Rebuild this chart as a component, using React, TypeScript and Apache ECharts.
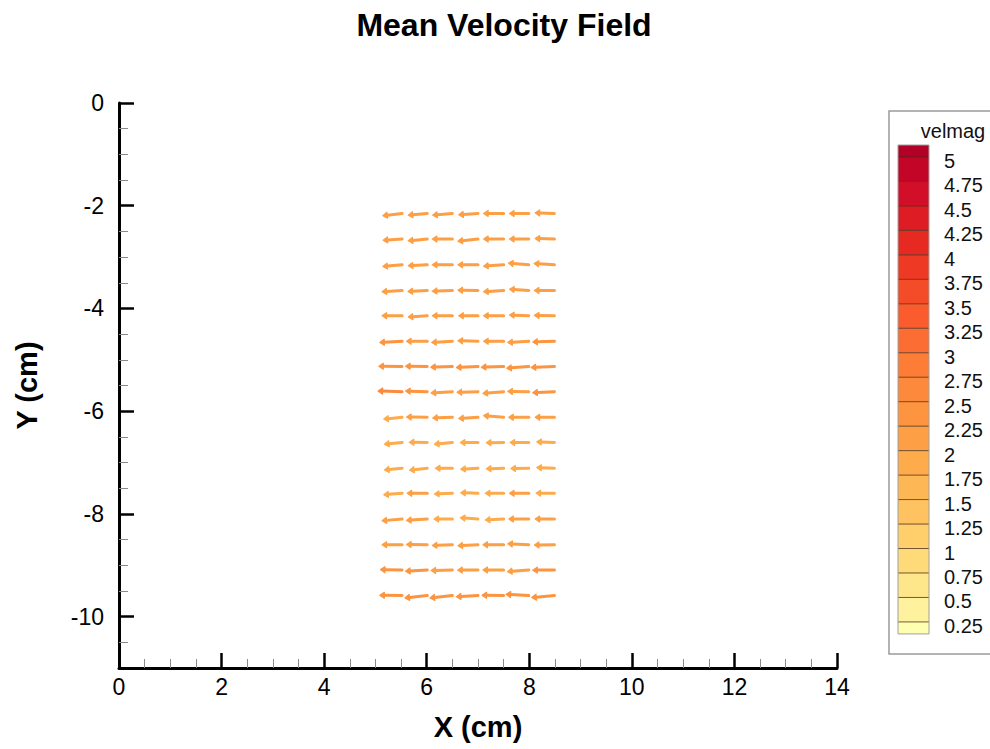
import React, { useEffect, useRef } from "react";
import * as echarts from "echarts";

// Grid positions (cm) of the vector anchors (tails)
const X_POS = [5.52, 6.01, 6.5, 7.0, 7.5, 7.99, 8.49];
const Y_POS = [-2.15, -2.65, -3.15, -3.65, -4.14, -4.64, -5.13, -5.62, -6.12, -6.61, -7.11, -7.6, -8.1, -8.6, -9.09, -9.59];

// Velocity components (cm/s), one row per Y_POS, one column per X_POS
const U = [
  [-2.03, -2.0, -2.07, -2.03, -2.11, -2.03, -2.03],
  [-2.0, -2.0, -2.11, -2.11, -2.11, -2.03, -2.03],
  [-2.03, -2.0, -2.11, -2.11, -2.11, -2.14, -2.14],
  [-2.11, -2.03, -2.11, -2.11, -2.11, -2.03, -2.11],
  [-2.11, -2.0, -2.11, -2.03, -2.11, -2.03, -2.11],
  [-2.35, -2.18, -2.18, -2.11, -2.11, -2.21, -2.28],
  [-2.45, -2.28, -2.28, -2.28, -2.35, -2.32, -2.45],
  [-2.53, -2.28, -2.24, -2.21, -2.18, -2.21, -2.28],
  [-1.93, -2.18, -2.07, -2.03, -2.11, -2.11, -2.03],
  [-1.86, -1.89, -1.89, -1.86, -1.82, -1.97, -1.86],
  [-1.86, -1.86, -1.79, -1.82, -1.82, -1.89, -1.86],
  [-1.93, -2.11, -1.89, -1.82, -1.93, -2.03, -1.93],
  [-2.11, -2.18, -1.93, -1.86, -1.93, -2.11, -2.03],
  [-2.11, -2.18, -2.11, -2.11, -2.18, -2.21, -2.11],
  [-2.28, -2.28, -2.24, -2.14, -2.18, -2.24, -2.28],
  [-2.35, -2.35, -2.35, -2.28, -2.28, -2.39, -2.39],
];
const V = [
  [-0.24, -0.18, -0.18, -0.14, 0, 0, 0.07],
  [-0.11, -0.18, 0, -0.21, 0, 0, 0.07],
  [-0.18, -0.11, 0, 0, -0.14, 0.18, 0.14],
  [-0.14, -0.11, -0.07, 0.03, -0.14, 0.14, 0],
  [0, -0.14, 0, 0, 0, 0.07, 0.03],
  [-0.11, 0, -0.11, 0.07, 0, -0.11, -0.07],
  [0.03, 0.03, -0.07, -0.11, -0.07, -0.18, -0.11],
  [0.07, 0.07, -0.14, -0.07, -0.18, 0.03, -0.11],
  [-0.18, 0.03, -0.07, -0.11, 0.18, 0, 0],
  [-0.18, 0.03, -0.18, 0, -0.03, 0, 0.07],
  [-0.18, -0.21, 0, -0.11, -0.07, -0.03, 0.07],
  [-0.14, 0, -0.07, 0.07, 0, 0, 0.03],
  [-0.18, -0.14, 0, 0.14, -0.11, 0, 0],
  [0, 0.03, -0.07, -0.11, 0, 0.11, -0.03],
  [0.03, -0.14, -0.07, -0.03, 0, -0.18, -0.03],
  [0.03, -0.24, -0.24, -0.11, 0.03, 0.14, -0.21],
];

// Contour levels of velmag and the colour of each band (below first .. above last)
const LEVELS = [0.25, 0.5, 0.75, 1, 1.25, 1.5, 1.75, 2, 2.25, 2.5, 2.75, 3, 3.25, 3.5, 3.75, 4, 4.25, 4.5, 4.75, 5];
const LEVEL_LABELS = ["0.25", "0.5", "0.75", "1", "1.25", "1.5", "1.75", "2", "2.25", "2.5", "2.75", "3", "3.25", "3.5", "3.75", "4", "4.25", "4.5", "4.75", "5"];
const LEVEL_COLORS = [
  "#ffffb2", "#fff29f", "#fee68b", "#feda79", "#fecf6a", "#fec360", "#feb755",
  "#feab4b", "#fd9f44", "#fd9440", "#fd893c", "#fd7d37", "#fc6d33", "#fa5c2e",
  "#f44b29", "#ee3a25", "#e62a21", "#de1c24", "#d20f29", "#c30628", "#b20026",
];

const X_TICKS = [0, 2, 4, 6, 8, 10, 12, 14];
const Y_TICKS = [0, -2, -4, -6, -8, -10];
const Y_MINOR = [-0.5, -1, -1.5, -2.5, -3, -3.5, -4.5, -5, -5.5, -6.5, -7, -7.5, -8.5, -9, -9.5, -10.5];

const FONT = "'Liberation Sans', Arial, Helvetica, sans-serif";
const ARROW_SCALE = 0.185; // cm of plot per cm/s

function colorFor(m: number): string {
  let i = 0;
  while (i < LEVELS.length && m >= LEVELS[i]) i++;
  return LEVEL_COLORS[i];
}

function buildLegend(): any[] {
  const els: any[] = [];
  const barX = 898;
  const barW = 31;
  const top = 145;
  const edge = 12;
  const step = 24.47;
  const firstBoundary = top + edge; // level 5
  els.push({
    type: "rect",
    shape: { x: 889, y: 111, width: 130, height: 543 },
    style: { fill: "#fff", stroke: "#9a9a9a", lineWidth: 1.5 },
    silent: true,
  });
  els.push({
    type: "text",
    x: 953,
    y: 131,
    style: { text: "velmag", font: `20px ${FONT}`, fill: "#111", align: "center", verticalAlign: "middle" },
  });
  const n = LEVELS.length;
  const by = (k: number) => firstBoundary + (n - 1 - k) * step;
  const bottom = by(0) + edge;
  for (let i = 0; i <= n; i++) {
    const y1 = i === n ? top : by(i);
    const y2 = i === 0 ? bottom : by(i - 1);
    els.push({
      type: "rect",
      shape: { x: barX, y: y1, width: barW, height: y2 - y1 },
      style: { fill: LEVEL_COLORS[i], stroke: null },
      silent: true,
    });
  }
  for (let k = 0; k < n; k++) {
    els.push({
      type: "line",
      shape: { x1: barX, y1: by(k), x2: barX + barW, y2: by(k) },
      style: { stroke: "rgba(70,40,20,0.75)", lineWidth: 1 },
      silent: true,
    });
    els.push({
      type: "text",
      x: 944,
      y: by(k) + 4,
      style: { text: LEVEL_LABELS[k], font: `20px ${FONT}`, fill: "#111", align: "left", verticalAlign: "middle" },
    });
  }
  els.push({
    type: "rect",
    shape: { x: barX, y: top, width: barW, height: bottom - top },
    style: { fill: "none", stroke: "#a0a0a0", lineWidth: 1 },
    silent: true,
  });
  return els;
}

export default function App() {
  const ref = useRef<HTMLDivElement>(null);
  useEffect(() => {
    if (!ref.current) return;
    const chart = echarts.init(ref.current, undefined, { renderer: "svg" });
    const data: number[][] = [];
    for (let r = 0; r < Y_POS.length; r++) {
      for (let c = 0; c < X_POS.length; c++) {
        const u = U[r][c];
        const v = V[r][c];
        data.push([X_POS[c], Y_POS[r], u, v, Math.hypot(u, v)]);
      }
    }
    const option: any = {
      animation: false,
      backgroundColor: "#fff",
      grid: { left: 119, top: 103, width: 718, height: 565, containLabel: false },
      xAxis: {
        type: "value",
        min: 0,
        max: 14,
        interval: 2,
        name: "X (cm)",
        nameLocation: "middle",
        nameGap: 44,
        nameTextStyle: { fontSize: 29, fontWeight: "bold", color: "#000", fontFamily: FONT },
        axisLine: { show: true, onZero: false, lineStyle: { color: "#000", width: 3 } },
        axisTick: { show: true, inside: true, length: 15, lineStyle: { color: "#000", width: 2.5 } },
        minorTick: { show: true, splitNumber: 4, length: 9, lineStyle: { color: "#8a8a8a", width: 1 } },
        axisLabel: { fontSize: 23, color: "#000", margin: 7, fontFamily: FONT },
        splitLine: { show: false },
        minorSplitLine: { show: false },
      },
      yAxis: [
        {
          type: "value",
          min: -11,
          max: 0,
          position: "left",
          name: "Y (cm)",
          nameLocation: "middle",
          nameGap: 78,
          nameTextStyle: { fontSize: 29, fontWeight: "bold", color: "#000", fontFamily: FONT },
          axisLine: { show: true, onZero: false, lineStyle: { color: "#000", width: 3 } },
          axisTick: { show: true, inside: true, length: 15, lineStyle: { color: "#000", width: 2.5 }, customValues: Y_TICKS },
          axisLabel: { customValues: Y_TICKS, fontSize: 23, color: "#000", margin: 15, fontFamily: FONT },
          splitLine: { show: false },
        },
        {
          type: "value",
          min: -11,
          max: 0,
          position: "left",
          offset: 0,
          axisLine: { show: false },
          axisTick: { show: true, inside: true, length: 9, lineStyle: { color: "#8a8a8a", width: 1 }, customValues: Y_MINOR },
          axisLabel: { show: false },
          splitLine: { show: false },
        },
      ],
      series: [
        {
          type: "custom",
          coordinateSystem: "cartesian2d",
          xAxisIndex: 0,
          yAxisIndex: 0,
          clip: false,
          data,
          renderItem: (params: any, api: any) => {
            const x = api.value(0);
            const y = api.value(1);
            const u = api.value(2);
            const v = api.value(3);
            const m = api.value(4);
            const p0 = api.coord([x, y]);
            const p1 = api.coord([x + u * ARROW_SCALE, y + v * ARROW_SCALE]);
            const dx = p1[0] - p0[0];
            const dy = p1[1] - p0[1];
            const len = Math.hypot(dx, dy) || 1;
            const ux = dx / len;
            const uy = dy / len;
            const hl = 4.5;
            const hw = 3;
            const bx = p1[0] - ux * hl;
            const by = p1[1] - uy * hl;
            const color = colorFor(m);
            return {
              type: "group",
              children: [
                {
                  type: "line",
                  shape: { x1: p0[0], y1: p0[1], x2: bx, y2: by },
                  style: { stroke: color, lineWidth: 3, lineCap: "round" },
                },
                {
                  type: "polygon",
                  shape: {
                    points: [
                      [p1[0], p1[1]],
                      [bx - uy * hw, by + ux * hw],
                      [bx + uy * hw, by - ux * hw],
                    ],
                  },
                  style: { fill: color, stroke: color, lineWidth: 1.2, lineJoin: "round" },
                },
              ],
            };
          },
        },
      ],
      graphic: [
        {
          type: "text",
          x: 504,
          y: 25,
          style: {
            text: "Mean Velocity Field",
            font: `bold 32px ${FONT}`,
            fill: "#000",
            align: "center",
            verticalAlign: "middle",
          },
        },
        ...buildLegend(),
      ],
    };
    chart.setOption(option);
    return () => chart.dispose();
  }, []);
  return (
    <div
      ref={ref}
      style={{ position: "absolute", left: 0, top: 0, width: 990, height: 749 }}
    />
  );
}
